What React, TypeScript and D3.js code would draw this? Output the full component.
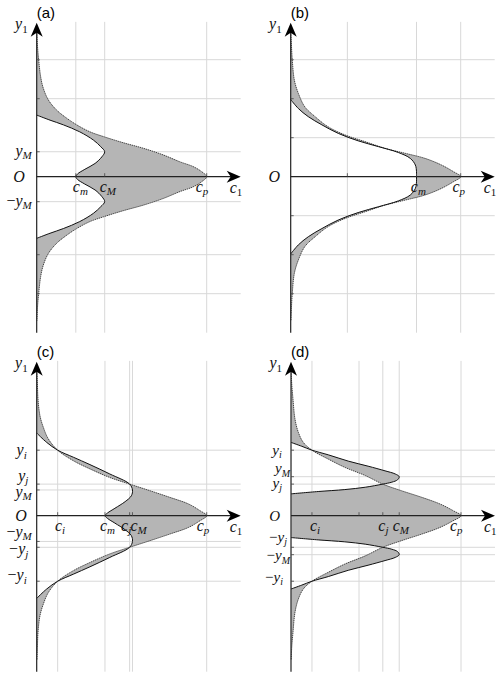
import { useEffect, useRef } from 'react';
import * as d3 from 'd3';

type Pt = [number, number]; // [c1, y1], upper half only, mirrored about y1 = 0

interface Label {
  v: number;
  pre?: string;
  base: string;
  sub?: string;
  upright?: boolean;
}

// ── Panel (a) ────────────────────────────────────────────────────────────
const A_OUTER: Pt[] = [
  [0.004, 3.7], [0.014, 3.35], [0.035, 2.99], [0.07, 2.56], [0.116, 2.27], [0.205, 1.97],
  [0.35, 1.71], [0.53, 1.5], [0.705, 1.33], [0.94, 1.15], [1.175, 1.03], [1.53, 0.87],
  [1.88, 0.73], [2.23, 0.56], [2.53, 0.38], [2.76, 0.26], [2.91, 0.13], [3.0, 0],
];
const A_INNER: Pt[] = [
  [0, 1.58], [0.235, 1.45], [0.47, 1.33], [0.76, 1.15], [1.0, 0.94], [1.13, 0.77],
  [1.2, 0.64], [1.15, 0.51], [1.03, 0.34], [0.85, 0.19], [0.72, 0.07], [0.69, 0],
];
const A_VGRID = [0.69, 1.2, 3.0];
const A_HGRID = [3, 2, 0.64, -0.64, -2, -3];
const A_XLABELS: Label[] = [
  { v: 0.69, base: 'c', sub: 'm' },
  { v: 1.2, base: 'c', sub: 'M' },
  { v: 3.0, base: 'c', sub: 'p' },
];
const A_YLABELS: Label[] = [
  { v: 0.64, base: 'y', sub: 'M' },
  { v: 0, base: 'O' },
  { v: -0.64, pre: '−', base: 'y', sub: 'M' },
];

// ── Panel (b) ────────────────────────────────────────────────────────────
const B_OUTER: Pt[] = [
  [0.004, 3.7], [0.012, 3.4], [0.028, 2.99], [0.064, 2.48], [0.134, 2.14], [0.25, 1.79],
  [0.43, 1.54], [0.66, 1.28], [0.96, 1.07], [1.31, 0.9], [1.66, 0.73], [2.02, 0.6],
  [2.37, 0.47], [2.66, 0.3], [2.87, 0.13], [3.0, 0],
];
const B_INNER: Pt[] = [
  [0, 1.98], [0.134, 1.75], [0.31, 1.54], [0.55, 1.33], [0.84, 1.11], [1.19, 0.92],
  [1.55, 0.77], [1.9, 0.62], [2.11, 0.47], [2.2, 0.3], [2.22, 0.13], [2.22, 0],
];
const B_VGRID = [1, 2.22, 3.0];
const B_HGRID = [3, 2, 1, -1, -2, -3];
const B_XLABELS: Label[] = [
  { v: 2.22, base: 'c', sub: 'm' },
  { v: 3.0, base: 'c', sub: 'p' },
];
const B_YLABELS: Label[] = [{ v: 0, base: 'O' }];

// ── Panel (c) ────────────────────────────────────────────────────────────
const C_OUTER: Pt[] = [
  [0.004, 3.7], [0.012, 3.4], [0.023, 2.99], [0.058, 2.56], [0.116, 2.27], [0.205, 1.97],
  [0.37, 1.68], [0.646, 1.41], [0.94, 1.2], [1.29, 0.98], [1.64, 0.81], [2.0, 0.64],
  [2.35, 0.47], [2.68, 0.3], [2.88, 0.13], [3.0, 0],
];
const C_INNER: Pt[] = [
  [0, 2.12], [0.176, 1.88], [0.37, 1.68], [0.646, 1.5], [0.94, 1.31], [1.29, 1.07],
  [1.64, 0.81], [1.69, 0.66], [1.67, 0.51], [1.56, 0.36], [1.38, 0.19], [1.25, 0.07],
  [1.205, 0],
];
const C_VGRID = [0.37, 1.205, 1.64, 1.69, 3.0];
const C_HGRID = [1.68, 0.81, 0.66, -0.66, -0.81, -1.68];
const C_XLABELS: Label[] = [
  { v: 0.37, base: 'c', sub: 'i' },
  { v: 1.205, base: 'c', sub: 'm' },
  { v: 1.64, base: 'c', sub: 'j' },
  { v: 1.69, base: 'c', sub: 'M' },
  { v: 3.0, base: 'c', sub: 'p' },
];
const C_YLABELS: Label[] = [
  { v: 1.68, base: 'y', sub: 'i' },
  { v: 0.81, base: 'y', sub: 'j' },
  { v: 0.66, base: 'y', sub: 'M' },
  { v: 0, base: 'O' },
  { v: -0.66, pre: '−', base: 'y', sub: 'M' },
  { v: -0.81, pre: '−', base: 'y', sub: 'j' },
  { v: -1.68, pre: '−', base: 'y', sub: 'i' },
];

// ── Panel (d) ────────────────────────────────────────────────────────────
const D_OUTER: Pt[] = [
  [0.004, 3.7], [0.012, 3.4], [0.035, 2.99], [0.07, 2.48], [0.129, 2.14], [0.217, 1.88],
  [0.37, 1.68], [0.66, 1.45], [0.95, 1.24], [1.31, 1.03], [1.62, 0.81], [1.95, 0.64],
  [2.31, 0.47], [2.63, 0.3], [2.86, 0.13], [3.0, 0],
];
const D_INNER: Pt[] = [
  [0, 1.88], [0.19, 1.78], [0.37, 1.68], [0.66, 1.56], [1.01, 1.4], [1.36, 1.27],
  [1.66, 1.15], [1.84, 1.07], [1.91, 1.0], [1.88, 0.92], [1.78, 0.86], [1.62, 0.81],
  [1.31, 0.73], [0.95, 0.67], [0.48, 0.62], [0, 0.56],
];
const D_VGRID = [0.37, 1.2, 1.62, 1.91, 3.0];
const D_HGRID = [1.68, 1.0, 0.81, -0.81, -1.0, -1.68];
const D_XLABELS: Label[] = [
  { v: 0.37, base: 'c', sub: 'i' },
  { v: 1.62, base: 'c', sub: 'j' },
  { v: 1.91, base: 'c', sub: 'M' },
  { v: 3.0, base: 'c', sub: 'p' },
];
const D_YLABELS: Label[] = [
  { v: 1.68, base: 'y', sub: 'i' },
  { v: 1.0, base: 'y', sub: 'M' },
  { v: 0.81, base: 'y', sub: 'j' },
  { v: 0, base: 'O' },
  { v: -0.81, pre: '−', base: 'y', sub: 'j' },
  { v: -1.0, pre: '−', base: 'y', sub: 'M' },
  { v: -1.68, pre: '−', base: 'y', sub: 'i' },
];

// Layout: per panel origin, x-label nudges, y-label right edge / baseline nudges
const PANELS = [
  {
    name: '(a)', ox: 36.7, oy: 176.7, outer: A_OUTER, inner: A_INNER,
    vGrid: A_VGRID, hGrid: A_HGRID, xLabels: A_XLABELS, yLabels: A_YLABELS,
    xDx: [-3, -5, -11], ySize: 16,
    yPos: [[-5, 4], [-12, 5], [-5, 4]],
  },
  {
    name: '(b)', ox: 290.7, oy: 176.7, outer: B_OUTER, inner: B_INNER,
    vGrid: B_VGRID, hGrid: B_HGRID, xLabels: B_XLABELS, yLabels: B_YLABELS,
    xDx: [-5.7, -8.3], ySize: 16,
    yPos: [[-10.7, 5]],
  },
  {
    name: '(c)', ox: 36.7, oy: 515.7, outer: C_OUTER, inner: C_INNER,
    vGrid: C_VGRID, hGrid: C_HGRID, xLabels: C_XLABELS, yLabels: C_YLABELS,
    xDx: [-2.7, -5, -8.6, -2, -10], ySize: 16,
    yPos: [[-10, 5], [-8.4, -3.5], [-5, 7], [-10, 5], [-5, -4.5], [-8.4, 7], [-10, -1]],
  },
  {
    name: '(d)', ox: 291, oy: 515.7, outer: D_OUTER, inner: D_INNER,
    vGrid: D_VGRID, hGrid: D_HGRID, xLabels: D_XLABELS, yLabels: D_YLABELS,
    xDx: [-2, -4.5, -6.6, -11], ySize: 15,
    yPos: [[-9.3, 4.5], [-1, -3.5], [-9, 3.5], [-11, 5], [-4, -5.5], [-1, 5.5], [-8, 0.5]],
  },
];

const MATH_FONT = "'Liberation Serif', 'DejaVu Serif', serif";
const SANS_FONT = "'Liberation Sans', Arial, sans-serif";
const FILL = '#b5b5b5';
const GRID = '#d8d8d8';
const INK = '#111';

function mirror(pts: Pt[]): Pt[] {
  const lower = pts.slice().reverse().map(([c, v]) => [c, -v] as Pt);
  if (pts[pts.length - 1][1] === 0) lower.shift();
  return pts.concat(lower);
}

function addLabel(
  g: d3.Selection<SVGGElement, unknown, null, undefined>,
  lab: Label,
  x: number,
  y: number,
  anchor: string,
  size = 16,
) {
  const t = g
    .append('text')
    .attr('x', x)
    .attr('y', y)
    .attr('text-anchor', anchor)
    .attr('font-family', MATH_FONT)
    .attr('font-size', size)
    .attr('fill', INK);
  if (lab.pre) t.append('tspan').attr('font-style', 'normal').text(lab.pre);
  t.append('tspan').attr('font-style', 'italic').text(lab.base);
  if (lab.sub)
    t.append('tspan')
      .attr('font-size', Math.round(size * 0.69))
      .attr('dy', 3.5)
      .attr('font-style', lab.upright ? 'normal' : 'italic')
      .text(lab.sub);
}

export default function App() {
  const svgRef = useRef<SVGSVGElement>(null);

  useEffect(() => {
    if (!svgRef.current) return;
    const svg = d3.select(svgRef.current);
    svg.selectAll('*').remove();

    PANELS.forEach(p => {
      const x = d3.scaleLinear().domain([0, 3.6]).range([p.ox, p.ox + 204]);
      const y = d3.scaleLinear().domain([-4, 4]).range([p.oy + 156, p.oy - 156]);
      const g = svg.append('g');

      const line = d3
        .line<Pt>()
        .x(d => x(d[0]))
        .y(d => y(d[1]))
        .curve(d3.curveCatmullRom.alpha(0.5));

      // ── Grid ──
      p.vGrid.forEach(v => {
        g.append('line')
          .attr('x1', x(v)).attr('x2', x(v))
          .attr('y1', y(-4)).attr('y2', y(3.97))
          .attr('stroke', GRID).attr('stroke-width', 1);
      });
      p.hGrid.forEach(v => {
        g.append('line')
          .attr('x1', x(0)).attr('x2', x(3.6))
          .attr('y1', y(v)).attr('y2', y(v))
          .attr('stroke', GRID).attr('stroke-width', 1);
      });

      // ── Shaded region: outer XOR inner ──
      const outerFull = mirror(p.outer);
      const lobes: Pt[][] =
        p.inner[p.inner.length - 1][0] === 0
          ? [p.inner, p.inner.map(([c, v]) => [c, -v] as Pt)]
          : [mirror(p.inner)];
      const d = line(outerFull) + 'Z' + lobes.map(l => line(l) + 'Z').join('');
      g.append('path').attr('d', d).attr('fill', FILL).attr('fill-rule', 'evenodd');

      g.append('path')
        .attr('d', line(outerFull))
        .attr('fill', 'none')
        .attr('stroke', '#333')
        .attr('stroke-width', 0.9)
        .attr('stroke-dasharray', '1.4 0.7');
      lobes.forEach(l => {
        g.append('path')
          .attr('d', line(l))
          .attr('fill', 'none')
          .attr('stroke', INK)
          .attr('stroke-width', 1);
      });

      // ── Axes with arrowheads ──
      const tipY = y(3.95);
      const tipX = x(3.6);
      g.append('line')
        .attr('x1', x(0)).attr('x2', x(0))
        .attr('y1', y(-4)).attr('y2', tipY + 9)
        .attr('stroke', '#222').attr('stroke-width', 1.2);
      g.append('line')
        .attr('x1', x(0)).attr('x2', tipX - 9)
        .attr('y1', y(0)).attr('y2', y(0))
        .attr('stroke', '#222').attr('stroke-width', 1.2);
      g.append('path')
        .attr('d', `M${x(0)},${tipY} L${x(0) + 6},${tipY + 14} L${x(0)},${tipY + 10} L${x(0) - 6},${tipY + 14} Z`)
        .attr('fill', '#000');
      g.append('path')
        .attr('d', `M${tipX},${y(0)} L${tipX - 14},${y(0) - 6} L${tipX - 10},${y(0)} L${tipX - 14},${y(0) + 6} Z`)
        .attr('fill', '#000');

      // ── Ticks ──
      p.hGrid.forEach(v => {
        g.append('line')
          .attr('x1', x(0)).attr('x2', x(0) + 3)
          .attr('y1', y(v)).attr('y2', y(v))
          .attr('stroke', '#444').attr('stroke-width', 0.8);
      });
      p.vGrid.forEach(v => {
        g.append('line')
          .attr('x1', x(v)).attr('x2', x(v))
          .attr('y1', y(0)).attr('y2', y(0) - 3.5)
          .attr('stroke', '#444').attr('stroke-width', 0.8);
      });

      // ── Labels ──
      p.xLabels.forEach((lab, i) => addLabel(g, lab, x(lab.v) + p.xDx[i], y(0) + 15, 'start'));
      p.yLabels.forEach((lab, i) =>
        addLabel(g, lab, x(0) + p.yPos[i][0], y(lab.v) + p.yPos[i][1], 'end', p.ySize),
      );
      addLabel(g, { v: 0, base: 'c', sub: '1', upright: true }, tipX - 11, y(0) + 16, 'start');
      addLabel(g, { v: 0, base: 'y', sub: '1', upright: true }, x(0) - 9, p.oy - 147.5, 'end');

      g.append('text')
        .attr('x', p.ox)
        .attr('y', p.oy - 158.5)
        .attr('font-family', SANS_FONT)
        .attr('font-size', 15)
        .attr('fill', '#000')
        .text(p.name);
    });
  }, []);

  return (
    <svg
      ref={svgRef}
      width={500}
      height={678}
      style={{ position: 'absolute', left: 0, top: 0, background: '#fff' }}
    />
  );
}
